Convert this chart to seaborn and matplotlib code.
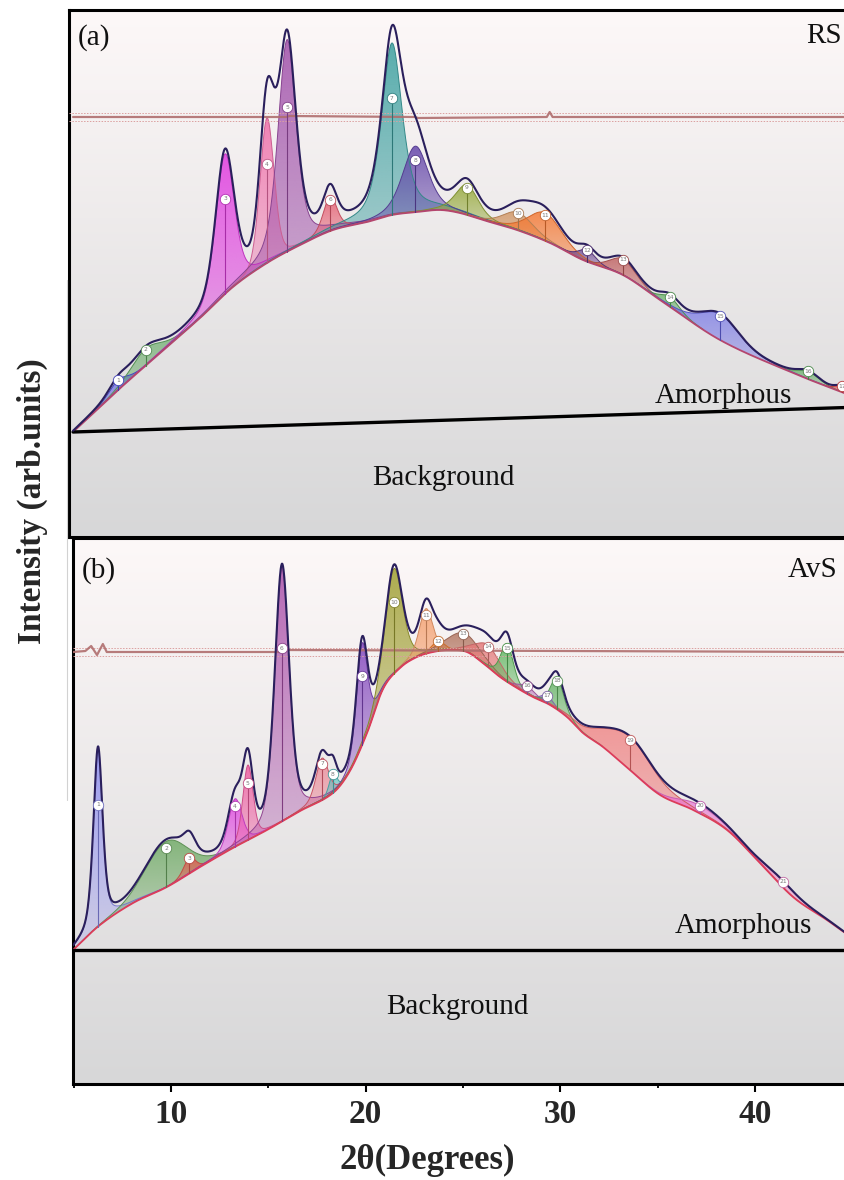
import numpy as np
import matplotlib
matplotlib.use("Agg")
import matplotlib.pyplot as plt
import matplotlib.colors as mcolors
from matplotlib.patches import Polygon
from matplotlib.lines import Line2D
from matplotlib.ticker import MultipleLocator
import seaborn as sns

sns.set_theme(style="white")
plt.rcParams["font.family"] = ["Liberation Serif", "DejaVu Serif"]

# ---------------- (a) RS ----------------
rs_amorph_x = [4.97, 7.23, 8.56, 11.49, 13.18, 14.93, 16.63, 18.32, 20.07, 21.35, 22.63,
               23.82, 24.84, 26.02, 27.77, 29.47, 31.16, 33.21, 35.12, 38.20, 41.95, 44.70]
rs_amorph_y = [105, 146, 169, 219, 250, 274, 292, 307, 315, 322, 325,
               327, 324, 317, 307, 294, 277, 262, 237, 197, 164, 143]
rs_bg_x = [4.97, 44.70]
rs_bg_y = [105, 129.5]
rs_peak_pos = [7.28, 8.70, 12.77, 14.93, 15.96, 18.17, 21.35, 22.55, 25.20, 27.82, 29.21,
               31.37, 33.21, 35.63, 38.20, 42.72, 44.46]
rs_peak_height = [10, 17, 140, 145, 212, 35, 172, 66, 30, 18, 28, 12, 16, 10, 26, 8, 6]
rs_peak_fwhm = [1.13, 1.80, 1.13, 0.85, 1.10, 0.82, 1.25, 1.54, 1.39, 1.80, 2.05,
                1.03, 1.54, 1.13, 2.31, 1.28, 0.77]
rs_peak_lorentz = [0.3, 0.3, 0.35, 0.2, 0.5, 0.4, 0.6, 0.4, 0.4, 0.3, 0.3,
                   0.3, 0.3, 0.3, 0.3, 0.3, 0.3]
rs_peak_colors = ["#5050e6", "#64aa64", "#e03ce0", "#f06eaa", "#a050aa", "#e65a6e",
                  "#3ca0a0", "#6446aa", "#96aa3c", "#d29664", "#f57832", "#643c8c",
                  "#be5a5a", "#5aaa5a", "#6464e6", "#5aaa5a", "#e64646"]
rs_resid_x = [4.97, 15.9, 16.1, 22.5, 22.7, 29.3, 29.45, 29.6, 44.7]
rs_resid_y = [420, 420, 421, 420, 419, 420, 425, 420, 420]

# ---------------- (b) AvS ----------------
avs_amorph_x = [4.97, 6.35, 8.05, 9.79, 11.49, 13.18, 14.93, 16.63, 18.32, 19.19, 20.07,
                20.89, 21.76, 22.63, 23.46, 24.33, 25.20, 26.02, 26.90, 27.77, 28.59,
                29.47, 30.34, 31.16, 32.19, 33.57, 35.12, 36.82, 38.56, 40.25, 41.95,
                43.69, 44.70]
avs_amorph_y = [134, 159, 181, 197, 217, 236, 254, 273, 291, 313, 351,
                395, 416, 427, 432, 434, 432, 421, 407, 396, 387,
                379, 367, 351, 337, 314, 289, 274, 254, 221, 187,
                164, 150]
avs_bg_x = [4.97, 44.70]
avs_bg_y = [134, 134]
avs_peak_pos = [6.25, 9.75, 10.95, 13.29, 13.95, 15.70, 17.76, 18.32, 19.81, 21.45, 23.10,
                23.71, 25.00, 26.28, 27.26, 28.28, 29.31, 29.83, 33.57, 37.17, 41.43]
avs_peak_height = [179, 46, 16, 48, 75, 255, 42, 20, 102, 105, 45,
                   10, 18, 22, 38, 8, 8, 32, 33, 8, 6]
avs_peak_fwhm = [0.56, 2.50, 0.70, 0.82, 0.62, 0.87, 0.77, 0.46, 0.67, 1.03, 0.82,
                 0.77, 2.05, 1.54, 0.77, 1.00, 0.72, 0.77, 3.08, 2.57, 2.05]
avs_peak_lorentz = [0.5, 0.1, 0.3, 0.3, 0.3, 0.4, 0.35, 0.3, 0.35, 0.4, 0.35,
                    0.3, 0.3, 0.3, 0.35, 0.3, 0.3, 0.35, 0.3, 0.3, 0.3]
avs_peak_colors = ["#8c8cf0", "#6eaa64", "#e65a50", "#e146e1", "#f05aa0", "#aa50aa",
                   "#eb6478", "#50bebe", "#8246be", "#a0a032", "#f5a06e", "#f08232",
                   "#b47864", "#e67878", "#5ab45a", "#b464b4", "#9678c8", "#64b464",
                   "#f06e6e", "#eb6ed2", "#f082c8"]
avs_resid_x = [4.97, 5.6, 5.9, 6.2, 6.5, 6.7, 7.0, 15.7, 15.9, 44.7]
avs_resid_y = [432, 433, 438, 429, 440, 432, 432, 432, 434, 432]

W, H = 845, 1180
fig = plt.figure(figsize=(W / 100, H / 100), dpi=100)


def pseudo_voigt(x, c, h, fwhm, eta):
    hw = fwhm / 2.0
    lor = 1.0 / (1.0 + ((x - c) / hw) ** 2)
    gau = np.exp(-np.log(2) * ((x - c) / hw) ** 2)
    return h * (eta * lor + (1 - eta) * gau)


def smooth_through(xp, yp, x):
    """Cubic Hermite curve through the listed points (centred-difference slopes)."""
    xp = np.asarray(xp, float)
    yp = np.asarray(yp, float)
    d = np.diff(yp) / np.diff(xp)
    m = np.empty_like(yp)
    m[0], m[-1] = d[0], d[-1]
    m[1:-1] = (yp[2:] - yp[:-2]) / (xp[2:] - xp[:-2])
    i = np.clip(np.searchsorted(xp, x) - 1, 0, len(xp) - 2)
    h = xp[i + 1] - xp[i]
    t = (x - xp[i]) / h
    h00 = 2 * t**3 - 3 * t**2 + 1
    h10 = t**3 - 2 * t**2 + t
    h01 = -2 * t**3 + 3 * t**2
    h11 = t**3 - t**2
    return h00 * yp[i] + h10 * h * m[i] + h01 * yp[i + 1] + h11 * h * m[i + 1]


def darker(color, f=0.7):
    r, g, b = mcolors.to_rgb(color)
    return (r * f, g * f, b * f)


def gradient_fill(ax, x, lo, hi, color, a_bot=0.22, a_top=0.85, z=2):
    verts = np.concatenate([np.column_stack([x, hi]), np.column_stack([x[::-1], lo[::-1]])])
    poly = Polygon(verts, closed=True, facecolor="none", edgecolor="none",
                   transform=ax.transData)
    ax.add_patch(poly)
    n = 64
    rgba = np.zeros((n, 1, 4))
    rgba[..., :3] = mcolors.to_rgb(color)
    rgba[:, 0, 3] = np.linspace(a_bot, a_top, n)
    im = ax.imshow(rgba, extent=[x.min(), x.max(), lo.min(), hi.max()], origin="lower",
                   aspect="auto", zorder=z, interpolation="bilinear")
    im.set_clip_path(poly)


def panel(rect, xlim, ylim, amorph_x, amorph_y, bg_x, bg_y, pos, height, fwhm, lor,
          colors, resid_x, resid_y, amorph_color):
    ax = fig.add_axes(rect)
    # vertical wash: near-white at the top, light grey at the bottom
    n = 256
    top = np.array([253, 248, 248]) / 255
    bot = np.array([215, 215, 216]) / 255
    t = np.linspace(0, 1, n)[:, None]
    grad = (bot * (1 - t) + top * t)[:, None, :]
    ax.imshow(grad, extent=[0, 1, 0, 1], transform=ax.transAxes, origin="lower",
              aspect="auto", zorder=0)

    x = np.linspace(amorph_x[0], amorph_x[-1], 3000)
    base = smooth_through(amorph_x, amorph_y, x)
    total = base.copy()
    for i, (c, h, w, e, col) in enumerate(zip(pos, height, fwhm, lor, colors)):
        p = pseudo_voigt(x, c, h, w, e)
        total += p
        m = p > 0.3
        xs, lo, hi = x[m], base[m], base[m] + p[m]
        gradient_fill(ax, xs, lo, hi, col, z=2 + i * 0.001)
        ax.plot(xs, hi, color=darker(col, 0.85), lw=0.7, zorder=2.5)
        b0 = float(smooth_through(amorph_x, amorph_y, np.array([c]))[0])
        ly = b0 + h - 0.32 * h * min(1.0, h / 100.0)
        ax.plot([c, c], [b0, ly], color=darker(col, 0.75), lw=0.8, zorder=3.5)
        ax.plot(c, ly, "o", ms=7.5, mfc="white", mec=darker(col, 0.8), mew=0.6, zorder=5)
        ax.text(c, ly, str(i + 1), fontsize=4.3, ha="center", va="center",
                color="#777777", zorder=6, family="DejaVu Sans")

    # background line, amorphous hump, residual band and measured trace
    sns.lineplot(x=bg_x, y=bg_y, ax=ax, color="black", lw=2.4, zorder=4)
    sns.lineplot(x=x, y=base, ax=ax, color=amorph_color, lw=1.3, zorder=3)
    r0 = np.median(resid_y)
    for off in (-4, 4):
        ax.plot([xlim[0], xlim[1]], [r0 + off, r0 + off], color="#dca0a0", lw=0.7,
                ls=(0, (1.5, 1.5)), zorder=3)
    sns.lineplot(x=resid_x, y=resid_y, ax=ax, color="#b06e6e", lw=1.6, alpha=0.9, zorder=3)
    sns.lineplot(x=x, y=total, ax=ax, color="#2a1f5c", lw=1.5, zorder=4.5)

    ax.set_xlim(*xlim)
    ax.set_ylim(*ylim)
    ax.set_xlabel("")
    ax.set_ylabel("")
    ax.set_yticks([])
    for s in ("top", "left", "bottom"):
        ax.spines[s].set_color("black")
        ax.spines[s].set_linewidth(2.2)
    ax.spines["right"].set_visible(False)
    return ax


px_per_deg = 19.47
ax_a = panel([69 / W, 1 - 537 / H, 776 / W, 527 / H],
             (10 + (69 - 171) / px_per_deg, 10 + (845 - 171) / px_per_deg), (0, 527),
             rs_amorph_x, rs_amorph_y, rs_bg_x, rs_bg_y, rs_peak_pos, rs_peak_height,
             rs_peak_fwhm, rs_peak_lorentz, rs_peak_colors, rs_resid_x, rs_resid_y,
             "#b4466e")
ax_a.set_xticks([])

ax_b = panel([73 / W, 1 - 1084 / H, 772 / W, 546 / H],
             (10 + (73 - 171) / px_per_deg, 10 + (845 - 171) / px_per_deg), (0, 546),
             avs_amorph_x, avs_amorph_y, avs_bg_x, avs_bg_y, avs_peak_pos, avs_peak_height,
             avs_peak_fwhm, avs_peak_lorentz, avs_peak_colors, avs_resid_x, avs_resid_y,
             "#dc3c5a")
ax_b.xaxis.set_major_locator(MultipleLocator(10))
ax_b.xaxis.set_minor_locator(MultipleLocator(5))
ax_b.tick_params(axis="x", which="major", direction="out", length=6, width=1.5,
                 color="black", bottom=True, labelsize=24, pad=5)
ax_b.tick_params(axis="x", which="minor", direction="out", length=3, width=1.3,
                 color="black", bottom=True)
for lab in ax_b.get_xticklabels():
    lab.set_fontweight("bold")

txt = dict(fontsize=21, color="#111111")
ax_a.text(5.22, 492, "(a)", ha="left", va="baseline", **txt)
ax_a.text(44.46, 494, "RS", ha="right", va="baseline", **txt)
ax_a.text(34.86, 134, "Amorphous", ha="left", va="baseline", **txt)
ax_a.text(23.97, 59, "Background", ha="center", va="center", **txt)

ax_b.text(5.43, 506, "(b)", ha="left", va="baseline", **txt)
ax_b.text(44.21, 507, "AvS", ha="right", va="baseline", **txt)
ax_b.text(35.89, 151, "Amorphous", ha="left", va="baseline", **txt)
ax_b.text(24.69, 77, "Background", ha="center", va="center", **txt)

fig.text(427 / W, 1 - 1160 / H, "2θ(Degrees)", ha="center", va="center",
         fontsize=25, fontweight="bold")
fig.text(32 / W, 1 - 501 / H, "Intensity (arb.units)", ha="center", va="center",
         rotation=90, fontsize=24, fontweight="bold")
fig.add_artist(Line2D([67 / W, 67 / W], [1 - 280 / H, 1 - 800 / H], color="#d2d2d2", lw=0.8))

fig.savefig("out.png", dpi=100, facecolor="white")
